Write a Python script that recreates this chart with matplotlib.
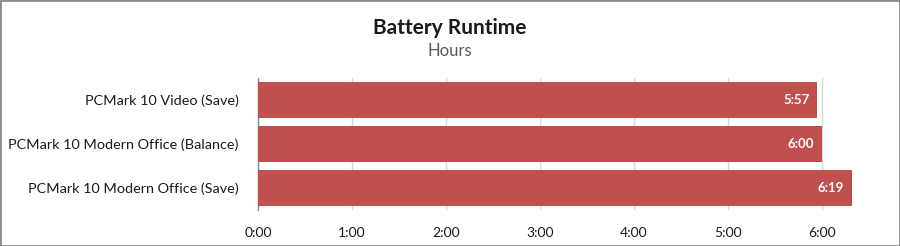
import matplotlib
matplotlib.use("Agg")
import matplotlib.pyplot as plt
from matplotlib.patches import Rectangle

categories = ["PCMark 10 Video (Save)", "PCMark 10 Modern Office (Balance)", "PCMark 10 Modern Office (Save)"]
minutes = [357, 360, 379]
xticks_hours = [0, 1, 2, 3, 4, 5, 6]

plt.rcParams['font.family'] = ['Lato', 'DejaVu Sans']

fig = plt.figure(figsize=(9, 2.46), dpi=100)
ax = fig.add_axes([258/900, 36/246, (869-258)/900, (210-78)/246])

hours = [m / 60 for m in minutes]
ypos = list(range(len(categories)))
bars = ax.barh(ypos, hours, height=0.8, color="#C0504D", zorder=3)
for y, h, m in zip(ypos, hours, minutes):
    ax.text(h - 0.08, y, f"{m // 60}:{m % 60:02d}", ha="right", va="center",
            color="white", fontsize=9.5, fontweight="bold", zorder=4)

ax.set_ylim(len(categories) - 0.5, -0.5)
ax.set_yticks(ypos)
ax.set_yticklabels(categories, fontsize=10.4, color="#1a1a1a")
ax.set_xlim(0, 6.5)
ax.set_xticks(xticks_hours)
ax.set_xticklabels([f"{h}:00" for h in xticks_hours], fontsize=10, color="#1a1a1a")
ax.tick_params(axis="y", length=0, pad=14)
ax.tick_params(axis="x", length=0, pad=12)
ax.grid(axis="x", color="#D9D9D9", linewidth=1, zorder=0)
for s in ["top", "right", "bottom"]:
    ax.spines[s].set_visible(False)
ax.spines["left"].set_color("#8C8C8C")
ax.spines["left"].set_linewidth(1)

fig.text(0.5, 1 - 28/246, "Battery Runtime", ha="center", va="center",
         fontsize=15, fontweight="bold", color="#1a1a1a")
fig.text(0.5, 1 - 51/246, "Hours", ha="center", va="center",
         fontsize=12, color="#595959")

fig.patches.append(Rectangle((0, 0), 1, 1, transform=fig.transFigure, fill=False,
                             edgecolor="#8C8C8C", linewidth=2))

fig.savefig("out.png", dpi=100)
